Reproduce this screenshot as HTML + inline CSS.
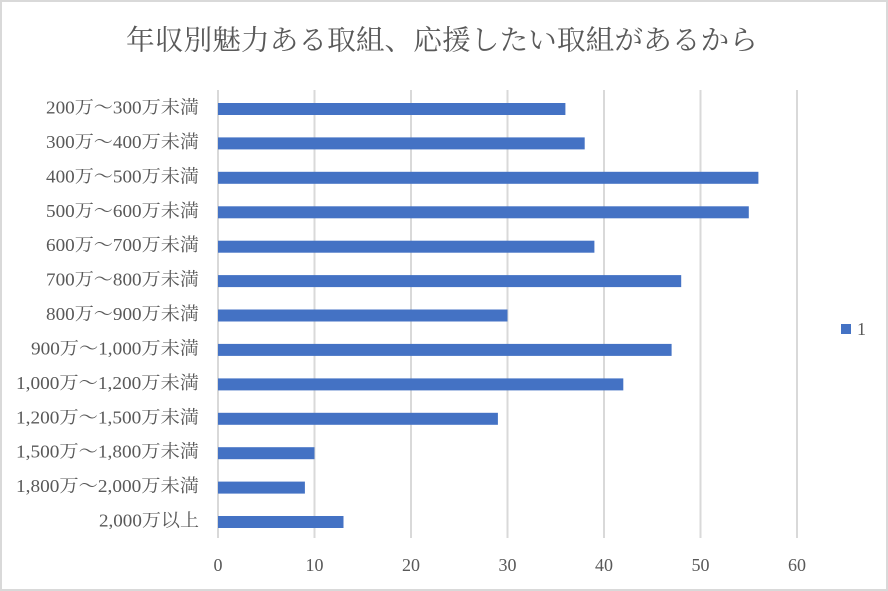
<!DOCTYPE html>
<html>
<head>
<meta charset="utf-8">
<style>
  html,body{margin:0;padding:0;background:#fff;}
  svg{display:block;}
  text{font-family:"Liberation Serif","Noto Serif CJK SC",serif;fill:#595959;}
</style>
</head>
<body>
<svg width="888" height="591" viewBox="0 0 888 591" xmlns="http://www.w3.org/2000/svg">
  <rect x="0" y="0" width="888" height="591" fill="#ffffff"/>
  <rect x="1" y="1" width="886" height="589" fill="none" stroke="#d9d9d9" stroke-width="2"/>

  <!-- Title -->
  <text x="126" y="41" font-size="28" dominant-baseline="central" textLength="632" lengthAdjust="spacingAndGlyphs">年収別魅力ある取組、応援したい取組があるから</text>

  <!-- Gridlines -->
  <g stroke="#d9d9d9" stroke-width="2">
    <line x1="218" y1="90" x2="218" y2="538"/>
    <line x1="314.5" y1="90" x2="314.5" y2="538"/>
    <line x1="411" y1="90" x2="411" y2="538"/>
    <line x1="507.5" y1="90" x2="507.5" y2="538"/>
    <line x1="604" y1="90" x2="604" y2="538"/>
    <line x1="700.5" y1="90" x2="700.5" y2="538"/>
    <line x1="797" y1="90" x2="797" y2="538"/>
  </g>

  <!-- Bars -->
  <g fill="#4472c4">
    <rect x="218" y="103.0" width="347.4" height="12"/>
    <rect x="218" y="137.4" width="366.7" height="12"/>
    <rect x="218" y="171.8" width="540.4" height="12"/>
    <rect x="218" y="206.3" width="530.8" height="12"/>
    <rect x="218" y="240.7" width="376.4" height="12"/>
    <rect x="218" y="275.1" width="463.2" height="12"/>
    <rect x="218" y="309.5" width="289.5" height="12"/>
    <rect x="218" y="343.9" width="453.6" height="12"/>
    <rect x="218" y="378.4" width="405.3" height="12"/>
    <rect x="218" y="412.8" width="279.9" height="12"/>
    <rect x="218" y="447.2" width="96.5" height="12"/>
    <rect x="218" y="481.6" width="86.9" height="12"/>
    <rect x="218" y="516.0" width="125.5" height="12"/>
  </g>

  <!-- Category labels -->
  <g font-size="18" text-anchor="end">
    <text x="199" y="113.5" textLength="153" lengthAdjust="spacingAndGlyphs">200万～300万未満</text>
    <text x="199" y="147.9" textLength="153" lengthAdjust="spacingAndGlyphs">300万～400万未満</text>
    <text x="199" y="182.3" textLength="153" lengthAdjust="spacingAndGlyphs">400万～500万未満</text>
    <text x="199" y="216.8" textLength="153" lengthAdjust="spacingAndGlyphs">500万～600万未満</text>
    <text x="199" y="251.2" textLength="153" lengthAdjust="spacingAndGlyphs">600万～700万未満</text>
    <text x="199" y="285.6" textLength="153" lengthAdjust="spacingAndGlyphs">700万～800万未満</text>
    <text x="199" y="320.0" textLength="153" lengthAdjust="spacingAndGlyphs">800万～900万未満</text>
    <text x="199" y="354.4" textLength="168" lengthAdjust="spacingAndGlyphs">900万～1,000万未満</text>
    <text x="199" y="388.9" textLength="183" lengthAdjust="spacingAndGlyphs">1,000万～1,200万未満</text>
    <text x="199" y="423.3" textLength="183" lengthAdjust="spacingAndGlyphs">1,200万～1,500万未満</text>
    <text x="199" y="457.7" textLength="183" lengthAdjust="spacingAndGlyphs">1,500万～1,800万未満</text>
    <text x="199" y="492.1" textLength="183" lengthAdjust="spacingAndGlyphs">1,800万～2,000万未満</text>
    <text x="199" y="526.5" textLength="100" lengthAdjust="spacingAndGlyphs">2,000万以上</text>
  </g>

  <!-- X tick labels -->
  <g font-size="18" text-anchor="middle">
    <text x="218" y="571">0</text>
    <text x="314.5" y="571">10</text>
    <text x="411" y="571">20</text>
    <text x="507.5" y="571">30</text>
    <text x="604" y="571">40</text>
    <text x="700.5" y="571">50</text>
    <text x="797" y="571">60</text>
  </g>

  <!-- Legend -->
  <rect x="841" y="324" width="10" height="10" fill="#4472c4"/>
  <text x="857" y="335" font-size="18">1</text>
</svg>
</body>
</html>
